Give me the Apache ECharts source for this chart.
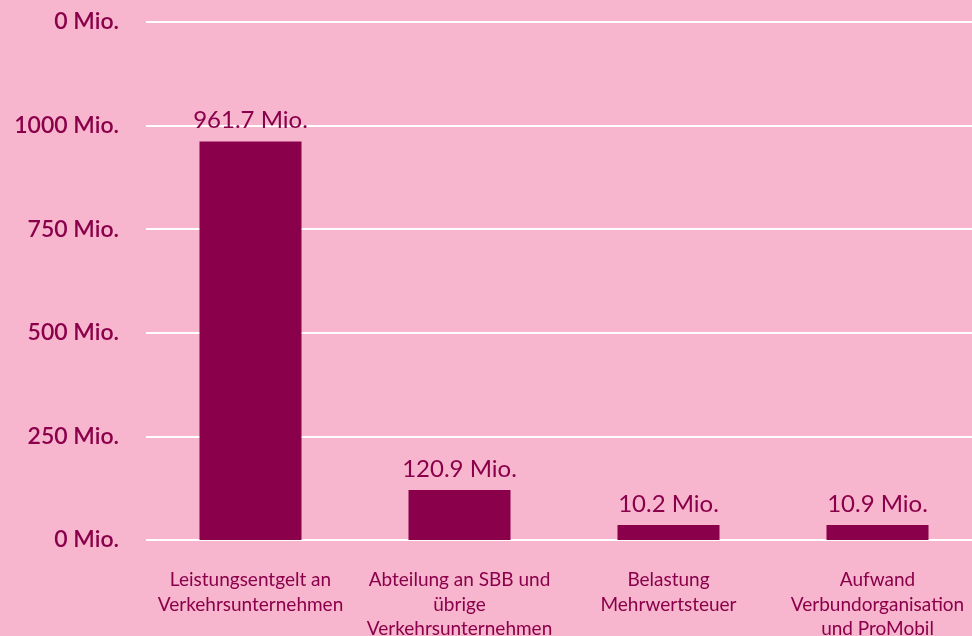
<!DOCTYPE html>
<html>
<head>
<meta charset="utf-8">
<script src="https://cdn.jsdelivr.net/npm/echarts@6/dist/echarts.min.js"></script>
<style>
html,body{margin:0;padding:0;background:#F7B5CE;overflow:hidden;}
#c{width:972px;height:636px;}
</style>
</head>
<body>
<div id="c"></div>
<script>
var categories = [
  'Leistungsentgelt an\nVerkehrsunternehmen',
  'Abteilung an SBB und\nübrige\nVerkehrsunternehmen',
  'Belastung\nMehrwertsteuer',
  'Aufwand\nVerbundorganisation\nund ProMobil'
];
var values = [961.7, 120.9, 10.2, 10.9];
var tickValues = [0, 250, 500, 750, 1000, 1250];
var tickLabels = ['0 Mio.', '250 Mio.', '500 Mio.', '750 Mio.', '1000 Mio.', '0 Mio.'];

var dark = '#8A004A';
var font = 'Lato, "Open Sans", sans-serif';
var chart = echarts.init(document.getElementById('c'));
chart.setOption({
  backgroundColor: '#F7B5CE',
  animation: false,
  grid: {left: 146, top: 22, width: 836, height: 518, containLabel: false, outerBoundsMode: 'none'},
  xAxis: {
    type: 'category',
    data: categories,
    axisLine: {show: false},
    axisTick: {show: false},
    axisLabel: {color: dark, fontFamily: font, fontSize: 19, lineHeight: 24.5, margin: 28, interval: 0}
  },
  yAxis: {
    type: 'value',
    min: 0, max: 1250, interval: 250,
    axisLine: {show: false},
    axisTick: {show: false},
    splitLine: {lineStyle: {color: '#ffffff', width: 2}},
    axisLabel: {
      color: dark, fontFamily: font, fontSize: 23, fontWeight: 600, margin: 27,
      formatter: function (v) { var i = tickValues.indexOf(v); return i >= 0 ? tickLabels[i] : ''; }
    }
  },
  series: [{
    type: 'bar',
    data: values,
    barWidth: 102,
    barMinHeight: 15,
    itemStyle: {color: dark},
    label: {
      show: true, position: 'top', distance: 9,
      color: dark, fontFamily: font, fontSize: 24,
      formatter: function (p) { return p.value + ' Mio.'; }
    }
  }]
});
</script>
</body>
</html>
